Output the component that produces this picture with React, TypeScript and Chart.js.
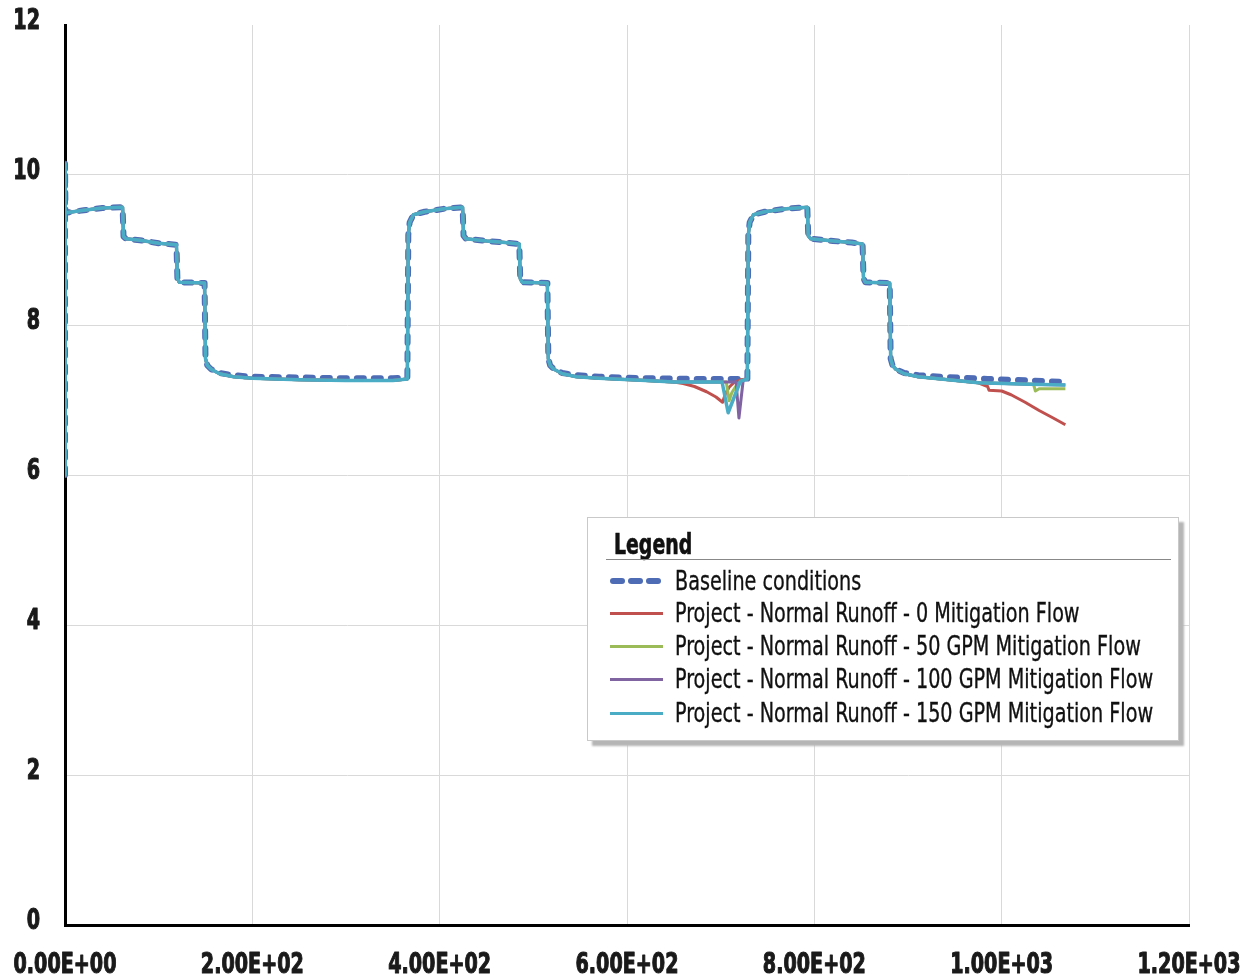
import React, { useEffect, useRef } from "react";
import { Chart, registerables } from "chart.js";

Chart.register(...registerables);

// ---------- data ----------
const xTickLabels = ["0.00E+00", "2.00E+02", "4.00E+02", "6.00E+02", "8.00E+02", "1.00E+03", "1.20E+03"];
const yTickLabels = ["0", "2", "4", "6", "8", "10", "12"];

const seriesLabels = [
  "Baseline conditions",
  "Project - Normal Runoff - 0 Mitigation Flow",
  "Project - Normal Runoff - 50 GPM Mitigation Flow",
  "Project - Normal Runoff - 100 GPM Mitigation Flow",
  "Project - Normal Runoff - 150 GPM Mitigation Flow",
];

const baselineX = [0, 0, 0.5, 3, 20, 40, 61.5, 62.5, 65, 80, 100, 119, 120, 122, 149, 150, 152, 156, 165, 180, 200, 250, 300, 350, 365.5, 366.5, 368, 372, 384, 405, 424.5, 425.5, 428, 450, 470, 485, 486, 488, 515, 516, 518, 522, 531, 546, 570, 620, 680, 728.5, 729.5, 731, 735, 747, 770, 792.5, 793.5, 796, 820, 840, 851.5, 852.5, 854.5, 880.5, 881.5, 883.5, 887, 896, 911, 935, 985, 1030, 1068];
const baselineY = [6.0, 10.15, 9.5, 9.5, 9.53, 9.56, 9.57, 9.18, 9.15, 9.13, 9.09, 9.07, 8.62, 8.57, 8.56, 7.55, 7.46, 7.41, 7.36, 7.33, 7.31, 7.3, 7.29, 7.29, 7.3, 9.2, 9.37, 9.47, 9.51, 9.55, 9.57, 9.19, 9.15, 9.12, 9.1, 9.08, 8.62, 8.57, 8.56, 7.55, 7.46, 7.41, 7.36, 7.33, 7.31, 7.29, 7.28, 7.28, 9.2, 9.37, 9.47, 9.51, 9.55, 9.57, 9.19, 9.15, 9.12, 9.1, 9.08, 8.62, 8.57, 8.56, 7.55, 7.46, 7.41, 7.36, 7.33, 7.31, 7.28, 7.26, 7.24];

// project runs share these two stretches
const projectStartX = [0, 0, 0.5, 3, 20, 40, 61.5, 62.5, 65, 80, 100, 119, 120, 122, 149, 150, 152, 156, 165, 180, 200, 250, 300, 350, 365.5, 366.5, 368, 372, 384, 405, 424.5, 425.5, 428, 450, 470, 485, 486, 488, 515, 516, 518, 522, 531, 546, 570, 620, 650];
const projectStartY = [6.0, 10.15, 9.5, 9.5, 9.53, 9.56, 9.57, 9.18, 9.15, 9.13, 9.09, 9.07, 8.62, 8.57, 8.56, 7.55, 7.46, 7.41, 7.35, 7.31, 7.29, 7.27, 7.26, 7.26, 7.28, 9.2, 9.37, 9.47, 9.51, 9.55, 9.57, 9.19, 9.15, 9.12, 9.1, 9.08, 8.62, 8.57, 8.56, 7.55, 7.46, 7.41, 7.35, 7.31, 7.29, 7.26, 7.24];
const projectMidX = [729.5, 731, 735, 747, 770, 792.5, 793.5, 796, 820, 840, 851.5, 852.5, 854.5, 880.5, 881.5, 883.5, 887, 896, 911, 935, 975];
const projectMidY = [9.2, 9.37, 9.47, 9.51, 9.55, 9.57, 9.19, 9.15, 9.12, 9.1, 9.08, 8.62, 8.57, 8.56, 7.55, 7.46, 7.41, 7.35, 7.31, 7.28, 7.23];

// 0 mitigation
const redDipX = [660, 672, 685, 695, 702, 705, 709, 714, 721, 728.5];
const redDipY = [7.22, 7.18, 7.11, 7.04, 6.97, 7.08, 7.17, 7.23, 7.27, 7.28];
const redEndX = [985, 986.5, 1000, 1010, 1025, 1040, 1055, 1068];
const redEndY = [7.18, 7.13, 7.12, 7.07, 6.97, 6.86, 6.76, 6.67];
// 50 GPM
const greenDipX = [706, 709, 712, 716, 720, 725, 728.5];
const greenDipY = [7.24, 6.99, 7.1, 7.18, 7.23, 7.27, 7.28];
const greenEndX = [1034, 1036, 1040, 1068];
const greenEndY = [7.21, 7.12, 7.15, 7.15];
// 100 GPM
const purpleDipX = [716.5, 719.5, 724, 728.5];
const purpleDipY = [7.24, 6.76, 7.26, 7.28];
const purpleEndX = [1030, 1068];
const purpleEndY = [7.21, 7.2];
// 150 GPM
const cyanDipX = [701.5, 708, 721, 728.5];
const cyanDipY = [7.24, 6.83, 7.25, 7.28];
const cyanEndX = [1030, 1068];
const cyanEndY = [7.21, 7.2];

// ---------- styles ----------
const colors = ["#4E6CB5", "#C0504D", "#9BBB59", "#8064A2", "#4BACC6"];
const FONT = '"DejaVu Sans Condensed", "DejaVu Sans", sans-serif';
const SQUEEZE = 0.76;

function pts(xs: number[], ys: number[]) {
  return xs.map((x, i) => ({ x, y: ys[i] }));
}

function project(dipX: number[], dipY: number[], endX: number[], endY: number[]) {
  return [
    ...pts(projectStartX, projectStartY),
    ...pts(dipX, dipY),
    ...pts(projectMidX, projectMidY),
    ...pts(endX, endY),
  ];
}

// narrow bold tick labels drawn at the scales' own tick positions
const condensedTicks = {
  id: "condensedTicks",
  afterDraw(chart: any) {
    const ctx = chart.ctx;
    const xs = chart.scales.x;
    const ys = chart.scales.y;
    ctx.save();
    ctx.fillStyle = "#1a1a1a";
    ctx.strokeStyle = "#1a1a1a";
    ctx.lineWidth = 1.1;
    ctx.lineJoin = "round";
    ctx.font = `bold 28px ${FONT}`;
    ctx.textBaseline = "middle";
    ctx.textAlign = "center";
    const draw = (txt: string, x: number, y: number) => {
      ctx.save();
      ctx.translate(x, y);
      ctx.scale(SQUEEZE, 1);
      ctx.fillText(txt, 0, 0);
      ctx.strokeText(txt, 0, 0);
      ctx.restore();
    };
    xs.ticks.forEach((t: any, i: number) => {
      draw(xTickLabels[i], xs.getPixelForValue(t.value), xs.top + 41);
    });
    ctx.textAlign = "right";
    ys.ticks.forEach((t: any, i: number) => {
      draw(yTickLabels[i], ys.right - 25, ys.getPixelForValue(t.value) - 3);
    });
    ctx.restore();
  },
};

export default function App() {
  const ref = useRef<HTMLCanvasElement | null>(null);

  useEffect(() => {
    if (!ref.current) return;
    const lineBase = { pointRadius: 0, tension: 0, fill: false, borderJoinStyle: "round" as const };
    const chart = new Chart(ref.current, {
      type: "line",
      data: {
        datasets: [
          { ...lineBase, label: seriesLabels[0], data: pts(baselineX, baselineY), borderColor: colors[0], borderWidth: 6, borderDash: [7, 10], borderCapStyle: "round", order: 5 },
          { ...lineBase, label: seriesLabels[1], data: project(redDipX, redDipY, redEndX, redEndY), borderColor: colors[1], borderWidth: 3, order: 4 },
          { ...lineBase, label: seriesLabels[2], data: project(greenDipX, greenDipY, greenEndX, greenEndY), borderColor: colors[2], borderWidth: 3, order: 3 },
          { ...lineBase, label: seriesLabels[3], data: project(purpleDipX, purpleDipY, purpleEndX, purpleEndY), borderColor: colors[3], borderWidth: 3, order: 2 },
          { ...lineBase, label: seriesLabels[4], data: project(cyanDipX, cyanDipY, cyanEndX, cyanEndY), borderColor: colors[4], borderWidth: 3.5, order: 1 },
        ],
      },
      options: {
        responsive: false,
        animation: false,
        layout: { padding: { top: 25, right: 56, left: 0, bottom: 0 } },
        plugins: { legend: { display: false }, tooltip: { enabled: false } },
        scales: {
          x: {
            type: "linear",
            min: 0,
            max: 1200,
            ticks: { stepSize: 200, display: false },
            grid: { color: "#d9d9d9", lineWidth: 1, drawTicks: false },
            border: { color: "#000", width: 3 },
            afterFit: (s: any) => { s.height = 55; s.paddingLeft = 0; s.paddingRight = 0; },
          },
          y: {
            type: "linear",
            min: 0,
            max: 12,
            ticks: { stepSize: 2, display: false },
            grid: {
              color: (c: any) => (c.tick && c.tick.value === 12 ? "rgba(0,0,0,0)" : "#d9d9d9"),
              lineWidth: 1,
              drawTicks: false,
            },
            border: { color: "#000", width: 3 },
            afterFit: (s: any) => { s.width = 65; s.paddingTop = 0; s.paddingBottom = 0; },
          },
        },
      },
      plugins: [condensedTicks],
    });
    return () => chart.destroy();
  }, []);

  const itemTop = [580, 612, 645, 678, 712];
  const squeeze = { display: "inline-block", transform: `scaleX(${0.79})`, transformOrigin: "left center", WebkitTextStroke: "0.35px #111" };

  return (
    <div style={{ position: "absolute", left: 0, top: 0, width: 1245, height: 980, background: "#fff" }}>
      <canvas ref={ref} width={1245} height={980} style={{ display: "block", width: 1245, height: 980 }} />
      <div
        style={{
          position: "absolute",
          left: 587,
          top: 517,
          width: 590,
          height: 222,
          background: "#fff",
          border: "1px solid #c9c9c9",
          boxShadow: "5px 5px 2px #b5b5b5",
          fontFamily: FONT,
          color: "#111",
        }}
      >
        <div style={{ position: "absolute", left: 26, top: 10, fontSize: 28, fontWeight: "bold", lineHeight: "34px", whiteSpace: "nowrap" }}>
          <span style={{ ...squeeze, transform: "scaleX(0.75)", WebkitTextStroke: "0.6px #111" }}>Legend</span>
        </div>
        <div style={{ position: "absolute", left: 18, top: 41, width: 565, height: 1, background: "#888" }} />
        {seriesLabels.map((lab, i) => (
          <div key={lab} style={{ position: "absolute", left: 0, top: itemTop[i] - 517 - 17, height: 34, width: 590 }}>
            {i === 0 ? (
              [0, 1, 2].map((k) => (
                <div key={k} style={{ position: "absolute", left: 22 + k * 18, top: 14, width: 15, height: 6, borderRadius: 3, background: colors[0] }} />
              ))
            ) : (
              <div style={{ position: "absolute", left: 22, top: 16, width: 53, height: 3, background: colors[i] }} />
            )}
            <div style={{ position: "absolute", left: 87, top: 0, fontSize: 27, lineHeight: "34px", whiteSpace: "nowrap" }}>
              <span style={squeeze}>{lab}</span>
            </div>
          </div>
        ))}
      </div>
    </div>
  );
}
